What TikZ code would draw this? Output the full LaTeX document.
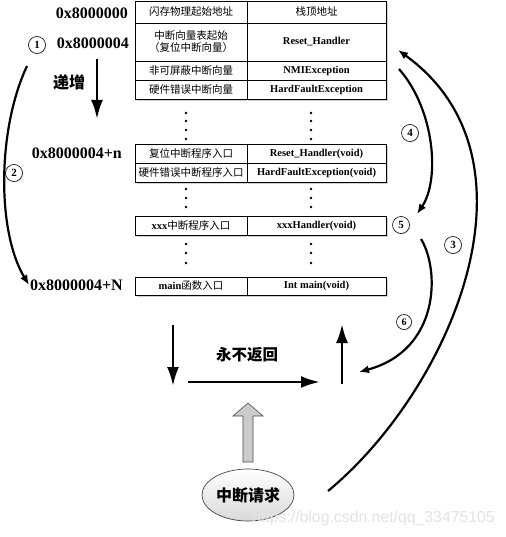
\documentclass[tikz,border=0pt]{standalone}
\usepackage{fontspec}
\setmainfont{Liberation Serif}
\newfontfamily\cjk{Noto Sans CJK SC}
\newfontfamily\wmfont{Liberation Sans}
\usetikzlibrary{arrows.meta,shapes.geometric,shadows}
\tikzset{
  cell/.style={draw=black, line width=0.8pt, fill=white, inner sep=0pt, align=center},
  lcell/.style={cell, minimum width=112pt},
  rcell/.style={cell, minimum width=139pt},
  ctext/.style={font=\cjk\fontsize{10.5}{12}\selectfont},
  etext/.style={font=\bfseries\fontsize{10.5}{12}\selectfont},
  addr/.style={font=\bfseries\fontsize{16}{18}\selectfont, anchor=east, inner sep=0pt},
  bigcjk/.style={font=\cjk\bfseries\fontsize{16}{18}\selectfont, inner sep=0pt},
  numc/.style={circle, draw=black, line width=0.6pt, fill=white, minimum size=17pt, inner sep=0pt,
     font=\bfseries\fontsize{11}{12}\selectfont,
     drop shadow={shadow xshift=1pt, shadow yshift=-1pt, fill=gray!45}},
  bigarrow/.style={line width=2.6pt, -{Latex[length=19pt,width=12pt]}},
  curvearrow/.style={line width=2.2pt, -{Latex[length=10pt,width=8pt]}},
  shadowbox/.style={fill=gray!35},
  tdot/.style={circle, fill=black, inner sep=0pt, minimum size=2.6pt}
}
\begin{document}
\begin{tikzpicture}[x=1pt,y=-1pt]
\useasboundingbox[fill=white] (0,0) rectangle (505,537);

% shadows of the table blocks
\fill[shadowbox] (137,3) rectangle (388,101);
\fill[shadowbox] (137,146) rectangle (388,184);
\fill[shadowbox] (137,218) rectangle (388,237);
\fill[shadowbox] (137,279) rectangle (388,297);

% block 1
\node[lcell, minimum height=22pt, ctext] (r1l) at (191,12) {闪存物理起始地址};
\node[rcell, minimum height=22pt, ctext] (r1r) at (316.5,12) {栈顶地址};
\node[lcell, minimum height=38pt, ctext] (r2l) at (191,42) {中断向量表起始\\（复位中断向量）};
\node[rcell, minimum height=38pt, etext] (r2r) at (316.5,42) {Reset\_Handler};
\node[lcell, minimum height=19pt, ctext] (r3l) at (191,70.5) {非可屏蔽中断向量};
\node[rcell, minimum height=19pt, etext] (r3r) at (316.5,70.5) {NMIException};
\node[lcell, minimum height=19pt, ctext] (r4l) at (191,89.5) {硬件错误中断向量};
\node[rcell, minimum height=19pt, etext] (r4r) at (316.5,89.5) {HardFaultException};

% block 2
\node[lcell, minimum height=19pt, ctext] (r5l) at (191,153.5) {复位中断程序入口};
\node[rcell, minimum height=19pt, etext] (r5r) at (316.5,153.5) {Reset\_Handler(void)};
\node[lcell, minimum height=19pt, ctext] (r6l) at (191,172.5) {硬件错误中断程序入口};
\node[rcell, minimum height=19pt, etext] (r6r) at (316.5,172.5) {HardFaultException(void)};

% xxx row
\node[lcell, minimum height=19pt] (r7l) at (191,225.5) {{\bfseries\fontsize{10.5}{12}\selectfont xxx}{\cjk\fontsize{10.5}{12}\selectfont 中断程序入口}};
\node[rcell, minimum height=19pt, etext] (r7r) at (316.5,225.5) {xxxHandler(void)};

% main row
\node[lcell, minimum height=18pt] (r8l) at (191,286) {{\bfseries\fontsize{10.5}{12}\selectfont main}{\cjk\fontsize{10.5}{12}\selectfont 函数入口}};
\node[rcell, minimum height=18pt, etext] (r8r) at (316.5,286) {Int main(void)};

% dots
\foreach \yy in {113,121,130,139} {
  \node[tdot] at (186,\yy) {};
  \node[tdot] at (311,\yy) {};
}
\foreach \yy in {189,198,207,244,253,263} {
  \node[tdot] at (186,\yy) {};
  \node[tdot] at (311,\yy) {};
}

% address labels
\node[addr] (a0) at (128,13) {0x8000000};
\node[addr] (a4) at (129,43) {0x8000004};
\node[addr] (an) at (122,153) {0x8000004+n};
\node[addr] (aN) at (123,285) {0x8000004+N};

% increment arrow
\node[bigcjk] (inc) at (69,82) {递增};
\coordinate (incs) at (97,59);
\coordinate (ince) at (97,119);
\draw[bigarrow] (incs) -- (ince);

% circled numbers
\node[numc] (n1) at (37,45) {1};
\node[numc] (n2) at (14,173) {2};
\node[numc] (n3) at (453,245) {3};
\node[numc] (n4) at (410,133) {4};
\node[numc] (n5) at (401,225) {5};
\node[numc, minimum size=15pt, font=\bfseries\fontsize{10}{11}\selectfont] (n6) at (404,322) {6};

% curve 1 -> 2
\coordinate (c12s) at (27,66);
\coordinate (c12e) at (29,285);
\draw[curvearrow] (c12s) .. controls (-3,130) and (-3,232) .. (c12e);

% curve 3
\coordinate (c3s) at (328,491);
\coordinate (c3e) at (398,50);
\draw[curvearrow] (c3s) .. controls (450,390) and (550,160) .. (c3e);

% curve 4
\coordinate (c4s) at (399,69);
\coordinate (c4e) at (417,214);
\draw[curvearrow] (c4s) .. controls (435,110) and (440,180) .. (c4e);

% curve 6
\coordinate (c6s) at (421,239);
\coordinate (c6e) at (359,372);
\draw[curvearrow] (c6s) .. controls (440,270) and (440,350) .. (c6e);

% bottom loop arrows
\coordinate (bds) at (173,325);
\coordinate (bde) at (173,386);
\draw[bigarrow] (bds) -- (bde);
\coordinate (bhs) at (188,382);
\coordinate (bhe) at (320,382);
\draw[bigarrow] (bhs) -- (bhe);
\coordinate (bus) at (342,384);
\coordinate (bue) at (342,324);
\draw[bigarrow] (bus) -- (bue);
\node[bigcjk, font=\cjk\bfseries\fontsize{15.5}{17}\selectfont] (never) at (247,355) {永不返回};

% interrupt request
\node[ellipse, draw=gray!55!black, line width=0.7pt, minimum width=92pt, minimum height=52pt,
      top color=white, bottom color=gray!30, inner sep=0pt,
      font=\cjk\bfseries\fontsize{16}{18}\selectfont] (irq) at (248,495) {中断请求};
\filldraw[fill=gray!40, draw=gray!60!black, line width=0.6pt]
  (243,462) -- (253,462) -- (253,416) -- (263,416) -- (248,403) -- (233,416) -- (243,416) -- cycle;

% watermark
\node[font=\wmfont\fontsize{15.8}{17}\selectfont, text=gray!22, inner sep=0pt] (wm) at (373.5,518) {https://blog.csdn.net/qq\_33475105};
\end{tikzpicture}
\end{document}
